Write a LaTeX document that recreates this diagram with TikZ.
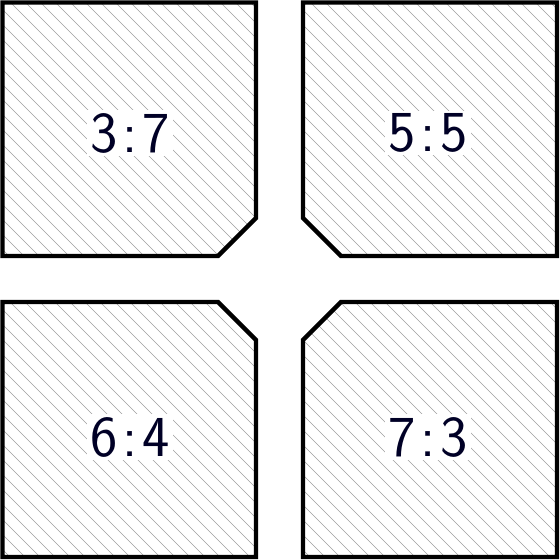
\documentclass[tikz,border=0pt]{standalone}
\tikzset{
  frame/.style={draw=black, line width=4.3pt, line join=miter},
  hatch/.style={draw=black!38, line width=0.6pt},
  ratio/.style={fill=white, inner sep=3pt, font=\sffamily\fontsize{58}{60}\selectfont, text=black!85!blue}
}
\newcommand{\rat}[2]{#1\hspace{5pt}:\hspace{5pt}#2}
\begin{document}
\begin{tikzpicture}[x=1pt,y=-1pt]
\useasboundingbox (0,0) rectangle (560,560);
% shapes
\def\tl{(2.5,2.5) -- (256,2.5) -- (256,218) -- (218,256) -- (2.5,256) -- cycle}
\def\tr{(303,2.5) -- (557,2.5) -- (557,256) -- (341,256) -- (303,218) -- cycle}
\def\bl{(2.5,302) -- (218,302) -- (256,340) -- (256,557) -- (2.5,557) -- cycle}
\def\br{(341,302) -- (557,302) -- (557,557) -- (303,557) -- (303,340) -- cycle}
\foreach \shp in {\tl,\tr,\bl,\br}{
  \begin{scope}
    \clip \shp;
    \foreach \c in {-563,-548,...,577}{
      \draw[hatch] (0,\c) -- (560,\c+560);
    }
  \end{scope}
}
\node[ratio] (a) at (130,133) {\rat{3}{7}};
\node[ratio] (b) at (428,133) {\rat{5}{5}};
\node[ratio] (c) at (130,437) {\rat{6}{4}};
\node[ratio] (d) at (428,437) {\rat{7}{3}};
\draw[frame] \tl;
\draw[frame] \tr;
\draw[frame] \bl;
\draw[frame] \br;
\end{tikzpicture}
\end{document}
